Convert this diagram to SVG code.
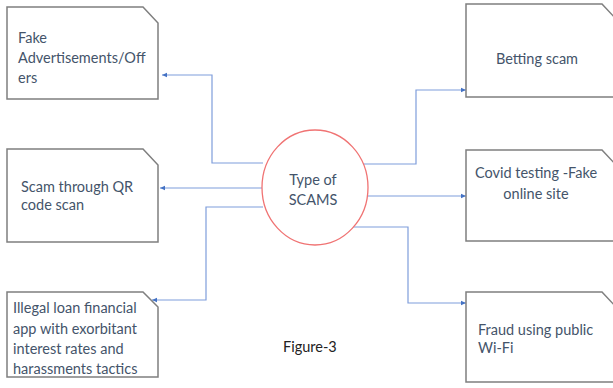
<svg xmlns="http://www.w3.org/2000/svg" width="613" height="388" viewBox="0 0 613 388">
<defs>
<marker id="ah" markerWidth="6" markerHeight="6" refX="5" refY="3" orient="auto" markerUnits="userSpaceOnUse">
<path d="M0,0.8 L5,3 L0,5.2 Z" fill="#4472C4"/>
</marker>
</defs>
<style>
.box{fill:#fff;stroke:#7f7f7f;stroke-width:1.5}
.t{font-family:Lato,"Open Sans",sans-serif;font-size:14.5px;fill:#44546A}
.c{fill:none;stroke:#7F9DDB;stroke-width:1.2;marker-end:url(#ah)}
</style>
<rect width="613" height="388" fill="#fff"/>
<g id="connectors">
<path class="c" d="M263,163 H212 V75 H162"/>
<path class="c" d="M262,188 H160"/>
<path class="c" d="M263,207 H206 V300 H152"/>
<path class="c" d="M363,164 H416 V90 H466"/>
<path class="c" d="M368,196 H466"/>
<path class="c" d="M350,227 H408 V303 H466"/>
</g>
<g id="center">
<ellipse cx="315" cy="187.5" rx="53" ry="57.5" fill="#fff" stroke="#F07373" stroke-width="1.3"/>
<text class="t" x="313" y="185" text-anchor="middle">Type of</text>
<text class="t" x="313" y="205" text-anchor="middle">SCAMS</text>
</g>
<g id="n1">
<path class="box" d="M7,7 H143 L158,23 V99 H7 Z"/>
<text class="t" x="18" y="43">Fake</text>
<text class="t" x="18" y="63">Advertisements/Off</text>
<text class="t" x="18" y="83">ers</text>
</g>
<g id="n2">
<path class="box" d="M7,149 H143 L158,165 V242 H7 Z"/>
<text class="t" x="21" y="192">Scam through QR</text>
<text class="t" x="21" y="210">code scan</text>
</g>
<g id="n3">
<path class="box" d="M7,292 H143 L158,307 V377 H7 Z"/>
<text class="t" x="13" y="313">Illegal loan financial</text>
<text class="t" x="13" y="334">app with exorbitant</text>
<text class="t" x="13" y="354">interest rates and</text>
<text class="t" x="13" y="374">harassments tactics</text>
</g>
<g id="n4">
<path class="box" d="M466,4 H602 L617,20 V97 H466 Z"/>
<text class="t" x="537" y="64" text-anchor="middle">Betting scam</text>
</g>
<g id="n5">
<path class="box" d="M466,150 H602 L617,166 V241 H466 Z"/>
<text class="t" x="536" y="178" text-anchor="middle">Covid testing -Fake</text>
<text class="t" x="536" y="199" text-anchor="middle">online site</text>
</g>
<g id="n6">
<path class="box" d="M466,292 H602 L617,308 V382 H466 Z"/>
<text class="t" x="478" y="335">Fraud using public</text>
<text class="t" x="478" y="353">Wi-Fi</text>
</g>
<g id="caption">
<text x="283" y="352" style="font-family:Lato,'Open Sans',sans-serif;font-size:14.5px;fill:#222">Figure-3</text>
</g>
</svg>
